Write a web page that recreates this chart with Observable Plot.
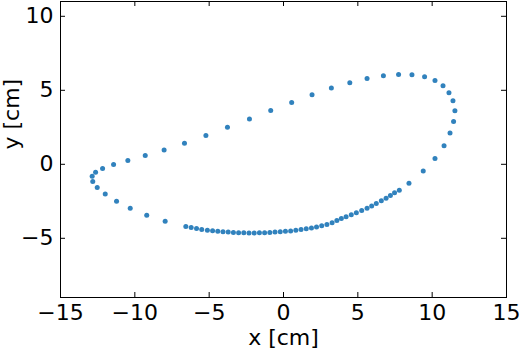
<!DOCTYPE html>
<html>
<head>
<meta charset="utf-8">
<script src="https://cdn.jsdelivr.net/npm/d3@7"></script>
<script src="https://cdn.jsdelivr.net/npm/@observablehq/plot@0.6"></script>
<style>
  html, body { margin: 0; padding: 0; background: #fff; }
  #chart svg { display: block; }
</style>
</head>
<body>
<div id="chart"></div>
<script>
// Trajectory positions (cm)
const xs = [
  -6.57, -6.21, -5.85, -5.50, -5.12, -4.77, -4.42, -4.07, -3.72, -3.37,
  -3.02, -2.67, -2.32, -1.97, -1.62, -1.27, -0.92, -0.57, -0.22, 0.13,
  0.48, 0.83, 1.18, 1.53, 1.88, 2.22, 2.57, 2.92, 3.27, 3.59,
  3.89, 4.21, 4.56, 4.90, 5.26, 5.62, 5.93, 6.24, 6.58, 6.90,
  7.19, 7.47, 7.79,
  8.44, 9.40, 10.19, 10.80, 11.20, 11.44, 11.53, 11.40, 11.13, 10.73,
  10.19, 9.49, 8.64, 7.74, 6.72, 5.62, 4.46,
  3.22, 1.92, 0.55, -0.86, -2.29, -3.77, -5.22, -6.66, -8.03, -9.30,
  -10.47, -11.43, -12.17, -12.64, -12.87, -12.83, -12.53, -11.99, -11.23, -10.31,
  -9.20, -7.96
];
const ys = [
  -4.20, -4.27, -4.34, -4.41, -4.45, -4.49, -4.53, -4.55, -4.58, -4.60,
  -4.62, -4.63, -4.64, -4.64, -4.63, -4.62, -4.60, -4.58, -4.56, -4.53,
  -4.50, -4.46, -4.41, -4.36, -4.30, -4.23, -4.16, -4.07, -3.95, -3.80,
  -3.66, -3.54, -3.41, -3.28, -3.12, -2.97, -2.82, -2.65, -2.47, -2.29,
  -2.11, -1.93, -1.75,
  -1.28, -0.45, 0.40, 1.26, 2.12, 2.90, 3.62, 4.30, 4.84, 5.31,
  5.67, 5.92, 6.05, 6.07, 5.99, 5.80, 5.51,
  5.16, 4.70, 4.18, 3.64, 3.06, 2.50, 1.95, 1.43, 0.97, 0.59,
  0.25, -0.02, -0.29, -0.54, -0.81, -1.17, -1.57, -2.00, -2.50, -2.97,
  -3.44, -3.85
];
const xTicks = [-15, -10, -5, 0, 5, 10, 15];
const yTicks = [-5, 0, 5, 10];
const xLabel = "x [cm]";
const yLabel = "y [cm]";

const points = xs.map((x, i) => ({x, y: ys[i]}));
const fmt = d => d < 0 ? "\u2212" + Math.abs(d) : String(d);

const W = 526, H = 354;
const mL = 60, mR = 20, mT = 1, mB = 57;
const frameH = H - mT - mB, frameW = W - mL - mR;
const tick = 5;
const fontSize = 22;

const chart = Plot.plot({
  width: W,
  height: H,
  marginLeft: mL,
  marginRight: mR,
  marginTop: mT,
  marginBottom: mB,
  style: {fontFamily: "DejaVu Sans", fontSize: fontSize + "px", background: "#fff", color: "#000"},
  x: {domain: [-15, 15]},
  y: {domain: [-9, 11]},
  marks: [
    Plot.dot(points, {x: "x", y: "y", r: 2.5, fill: "#3182bd", stroke: "none"}),
    Plot.frame({stroke: "#000", strokeWidth: 1}),
    // inward ticks on all four sides
    Plot.tickX(xTicks, {x: d => d, insetTop: frameH - tick, stroke: "#000"}),
    Plot.tickX(xTicks, {x: d => d, insetBottom: frameH - tick, stroke: "#000"}),
    Plot.tickY(yTicks, {y: d => d, insetRight: frameW - tick, stroke: "#000"}),
    Plot.tickY(yTicks, {y: d => d, insetLeft: frameW - tick, stroke: "#000"}),
    Plot.axisX({ticks: xTicks, tickSize: 0, tickPadding: 7, tickFormat: fmt, label: null, fontSize: fontSize, fill: "#000"}),
    Plot.axisY({ticks: yTicks, tickSize: 0, tickPadding: 7, tickFormat: fmt, label: null, fontSize: fontSize, fill: "#000"}),
    Plot.text([xLabel], {frameAnchor: "bottom", text: d => d, dy: 47, lineAnchor: "bottom", fontSize: fontSize, fill: "#000"}),
    Plot.text([yLabel], {frameAnchor: "left", text: d => d, dx: -42, rotate: -90, lineAnchor: "bottom", fontSize: fontSize, fill: "#000"})
  ]
});
document.getElementById("chart").appendChild(chart);
</script>
</body>
</html>
